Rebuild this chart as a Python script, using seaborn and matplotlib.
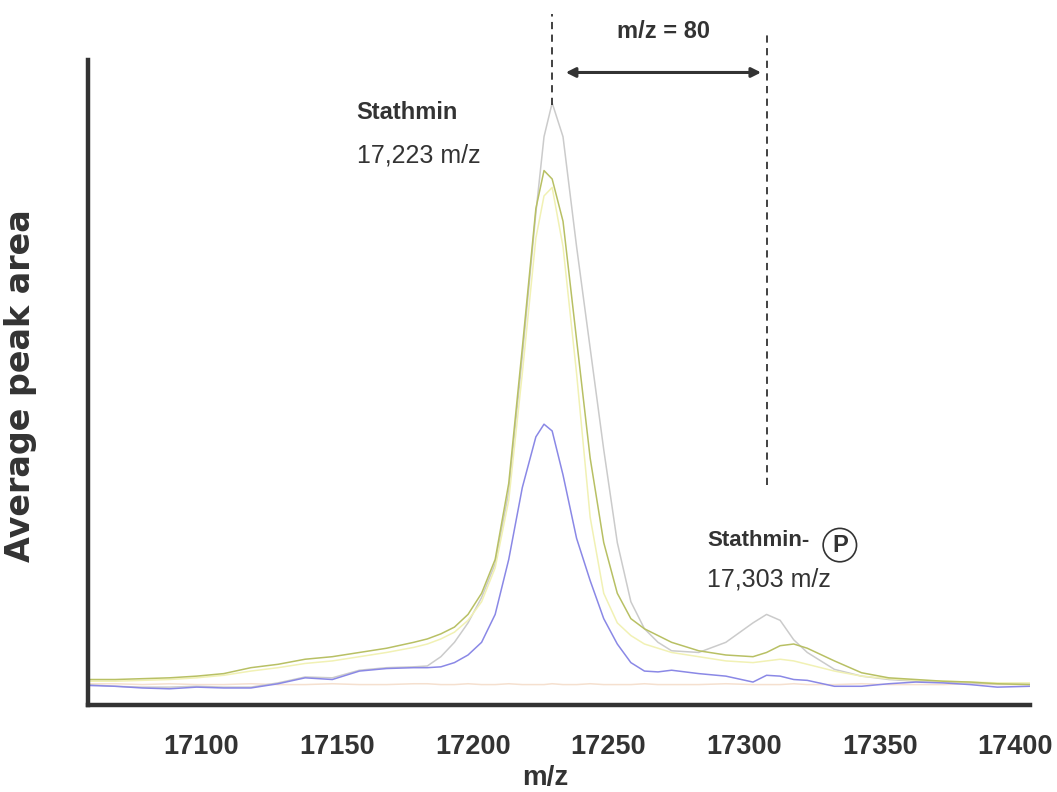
import numpy as np
import pandas as pd
import matplotlib
matplotlib.use("Agg")
import matplotlib.pyplot as plt
import matplotlib.transforms as mtransforms
import seaborn as sns

# ---------------- data ----------------
mz = [17055, 17065, 17075, 17085, 17095, 17105, 17115, 17125, 17135, 17145,
      17155, 17165, 17175, 17180, 17185, 17190, 17195, 17200, 17205, 17210,
      17215, 17220, 17223, 17226, 17230, 17235, 17240, 17245, 17250, 17255,
      17260, 17265, 17270, 17280, 17290, 17300, 17305, 17310, 17315, 17320,
      17330, 17340, 17350, 17360, 17370, 17380, 17390, 17402]

blue = [0.11, 0.10, 0.08, 0.07, 0.09, 0.08, 0.08, 0.13, 0.20, 0.18,
        0.28, 0.31, 0.32, 0.32, 0.33, 0.38, 0.47, 0.62, 0.95, 1.60,
        2.45, 3.05, 3.20, 3.12, 2.60, 1.85, 1.35, 0.90, 0.60, 0.38,
        0.28, 0.27, 0.29, 0.25, 0.22, 0.15, 0.23, 0.22, 0.18, 0.17,
        0.10, 0.10, 0.13, 0.15, 0.14, 0.12, 0.09, 0.10]

gray = [0.12, 0.10, 0.09, 0.09, 0.10, 0.09, 0.09, 0.14, 0.21, 0.20,
        0.29, 0.32, 0.33, 0.34, 0.45, 0.62, 0.85, 1.15, 1.55, 2.40,
        4.00, 5.70, 6.60, 7.00, 6.60, 5.30, 4.10, 2.90, 1.80, 1.10,
        0.78, 0.62, 0.52, 0.50, 0.62, 0.85, 0.95, 0.88, 0.65, 0.50,
        0.30, 0.22, 0.18, 0.16, 0.15, 0.14, 0.13, 0.13]

green = [0.18, 0.18, 0.19, 0.20, 0.22, 0.25, 0.32, 0.36, 0.42, 0.45,
         0.50, 0.55, 0.62, 0.66, 0.72, 0.80, 0.95, 1.20, 1.60, 2.50,
         4.10, 5.75, 6.20, 6.10, 5.60, 4.20, 2.80, 1.80, 1.20, 0.90,
         0.78, 0.70, 0.62, 0.52, 0.47, 0.45, 0.50, 0.58, 0.60, 0.55,
         0.40, 0.26, 0.20, 0.18, 0.16, 0.15, 0.13, 0.12]

yellow = [0.16, 0.16, 0.17, 0.18, 0.20, 0.23, 0.28, 0.32, 0.37, 0.40,
          0.45, 0.50, 0.56, 0.60, 0.66, 0.74, 0.88, 1.10, 1.50, 2.30,
          3.80, 5.40, 5.90, 6.00, 5.30, 3.80, 2.10, 1.20, 0.85, 0.70,
          0.60, 0.55, 0.50, 0.45, 0.40, 0.38, 0.40, 0.42, 0.40, 0.36,
          0.28, 0.22, 0.19, 0.17, 0.16, 0.15, 0.14, 0.14]

orange = [0.13, 0.13, 0.12, 0.13, 0.12, 0.12, 0.13, 0.12, 0.12, 0.13,
          0.12, 0.12, 0.13, 0.13, 0.12, 0.12, 0.13, 0.12, 0.12, 0.13,
          0.12, 0.12, 0.12, 0.13, 0.12, 0.12, 0.13, 0.12, 0.12, 0.12,
          0.13, 0.12, 0.12, 0.12, 0.13, 0.12, 0.12, 0.12, 0.13, 0.12,
          0.12, 0.13, 0.12, 0.12, 0.12, 0.13, 0.12, 0.12]

series_names = ["orange", "gray", "yellow", "green", "blue"]
series_values = [orange, gray, yellow, green, blue]
series_colors = ["#f5e0cf", "#cbcbcb", "#f1f1b4", "#b8c064", "#8a88e6"]

xticks = [17100, 17150, 17200, 17250, 17300, 17350, 17400]
yticks = [1, 2, 3, 4, 5, 6, 7]

df = pd.DataFrame({
    "mz": np.tile(mz, len(series_names)),
    "area": np.concatenate(series_values),
    "series": np.repeat(series_names, len(mz)),
})

# ---------------- style ----------------
sns.set_style("white")
plt.rcParams["font.family"] = ["Liberation Sans", "DejaVu Sans"]
dark = "#333333"

fig = plt.figure(figsize=(10.57, 7.92), dpi=100)
ax = fig.add_axes([0.0833, 0.110, 0.891, 0.8145])

sns.lineplot(data=df, x="mz", y="area", hue="series", hue_order=series_names,
             palette=dict(zip(series_names, series_colors)), linewidth=1.1,
             legend=False, ax=ax, sort=False)

ax.set_xlim(17055, 17402)
ax.set_ylim(-0.12, 7.51)
ax.set_xticks(xticks)
ax.set_yticks(yticks)
ax.set_yticklabels([])
ax.tick_params(axis="x", direction="out", length=7, width=2.5, color=dark, pad=14)
ax.tick_params(axis="y", direction="out", length=5, width=2.5, color=dark)
ax.set_xticklabels([str(t) for t in xticks], fontsize=19.5, fontweight="bold", color=dark)
shift = mtransforms.ScaledTranslation(-9 / 100, 0, fig.dpi_scale_trans)
for lab in ax.get_xticklabels():
    lab.set_transform(lab.get_transform() + shift)

for side in ["top", "right"]:
    ax.spines[side].set_visible(False)
for side in ["left", "bottom"]:
    ax.spines[side].set_linewidth(3.2)
    ax.spines[side].set_color(dark)

ax.set_xlabel("m/z", fontsize=20, fontweight="bold", color=dark)
ax.xaxis.set_label_coords(0.485, -0.093)
ax.set_ylabel("Average peak area", fontsize=24, fontweight="bold", color=dark,
              family="DejaVu Sans")
ax.yaxis.set_label_coords(-0.054, 0.495)

# ---------------- annotations ----------------
ax.text(17154, 7.02, "Stathmin", fontsize=17, fontweight="bold", color=dark,
        va="top", ha="left")
ax.text(17154, 6.52, "17,223 m/z", fontsize=18, color=dark, va="top", ha="left")

ax.text(17283, 1.95, "Stathmin-", fontsize=16, fontweight="bold", color=dark,
        va="top", ha="left")
ax.text(17332, 1.77, "P", fontsize=17, fontweight="bold", color=dark,
        va="center", ha="center",
        bbox=dict(boxstyle="circle,pad=0.22", fc="white", ec=dark, lw=1.2))
ax.text(17283, 1.50, "17,303 m/z", fontsize=18, color=dark, va="top", ha="left")

# dashed guide lines
ax.plot([17226, 17226], [6.98, 8.05], ls=(0, (4, 3)), color=dark, lw=1.3, clip_on=False)
ax.plot([17305, 17305], [2.48, 7.85], ls=(0, (4, 3)), color=dark, lw=1.3, clip_on=False)

# double arrow
ax.annotate("", xy=(17303, 7.36), xytext=(17231, 7.36),
            arrowprops=dict(arrowstyle="<|-|>", color=dark, lw=2.2,
                            mutation_scale=14, shrinkA=0, shrinkB=0),
            annotation_clip=False)
ax.text(17267, 7.85, "m/z = 80", fontsize=17, fontweight="bold", color=dark,
        ha="center", va="center", clip_on=False)

fig.savefig("out.png", dpi=100, facecolor="white")
